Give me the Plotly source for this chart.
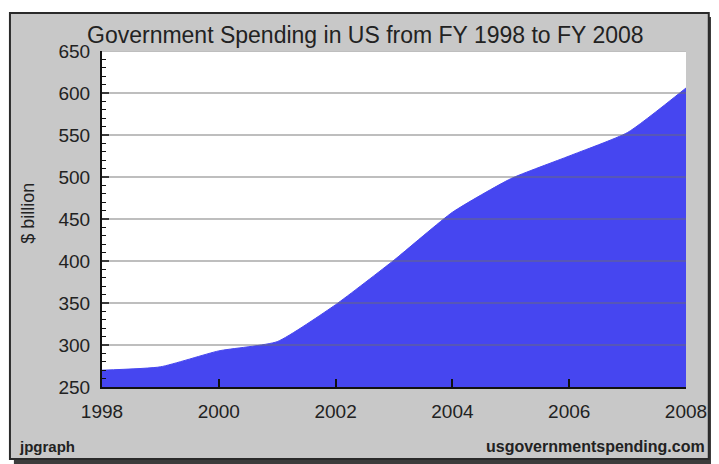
import plotly.graph_objects as go

# ---- data ----
years = [1998, 1999, 2000, 2001, 2002, 2003, 2004, 2005, 2006, 2007, 2008]
spending = [270, 274, 293, 304, 348, 401, 458, 498, 525, 553, 606]
x_ticks = [1998, 2000, 2002, 2004, 2006, 2008]
y_ticks = [250, 300, 350, 400, 450, 500, 550, 600, 650]
title_text = "Government Spending in US from FY 1998 to FY 2008"
y_title = "$ billion"
footer_left = "jpgraph"
footer_right = "usgovernmentspending.com"

# ---- layout geometry (pixels in the 719x464 window) ----
OFF = 8  # default page body margin
W, H = 719 - OFF, 464 - OFF
L, R, T, B = 102 - OFF, 692 - OFF, 51 - OFF, 387 - OFF


def px(xp):
    return (xp - OFF - L) / (R - L)


def py(yp):
    return (B - (yp - OFF)) / (B - T)


FONT = "Liberation Sans, Arial, sans-serif"
TXT = "#222222"
BLUE = "#4646F0"

fig = go.Figure()
fig.add_trace(go.Scatter(
    x=years, y=spending, mode="lines", fill="tozeroy",
    fillcolor=BLUE, line=dict(color=BLUE, width=1, shape="spline", smoothing=0.5),
    hoverinfo="skip", showlegend=False,
))

# frame shadow, frame, plot area
fig.add_shape(type="rect", xref="paper", yref="paper",
              x0=px(13), x1=px(719), y0=py(17), y1=py(464),
              fillcolor="#3c3c3c", line=dict(width=0), layer="below")
fig.add_shape(type="rect", xref="paper", yref="paper",
              x0=px(9), x1=px(715), y0=py(13), y1=py(459),
              fillcolor="#C8C8C8", line=dict(color="#2a2a2a", width=2), layer="below")
fig.add_shape(type="rect", xref="paper", yref="paper",
              x0=0, x1=1, y0=0, y1=1,
              fillcolor="white", line=dict(width=0), layer="below")

# gridlines drawn above the area fill
for v in y_ticks[1:]:
    fig.add_shape(type="line", xref="paper", yref="y", x0=0, x1=1, y0=v, y1=v,
                  line=dict(color="rgba(110,110,110,0.6)", width=1.5), layer="above")

fig.add_annotation(text=title_text, xref="paper", yref="paper",
                   x=px(368), y=py(35), xanchor="center", yanchor="middle",
                   showarrow=False, font=dict(family=FONT, size=23, color=TXT))
fig.add_annotation(text=y_title, xref="paper", yref="paper",
                   x=px(27), y=py(213), xanchor="center", yanchor="middle",
                   textangle=-90, showarrow=False,
                   font=dict(family=FONT, size=18, color=TXT))
fig.add_annotation(text=footer_left, xref="paper", yref="paper",
                   x=px(16), y=py(446), xanchor="left", yanchor="middle",
                   showarrow=False, font=dict(family=FONT, size=15, color=TXT, weight="bold"))
fig.add_annotation(text=footer_right, xref="paper", yref="paper",
                   x=px(713), y=py(446), xanchor="right", yanchor="middle",
                   showarrow=False, font=dict(family=FONT, size=16, color=TXT, weight="bold"))

fig.update_layout(
    width=W, height=H, autosize=False,
    margin=dict(l=L, r=W - R, t=T, b=H - B, pad=0),
    paper_bgcolor="white", plot_bgcolor="white",
    showlegend=False,
    font=dict(family=FONT, color=TXT),
)
fig.update_xaxes(
    range=[years[0], years[-1]], tickvals=x_ticks, ticktext=[str(t) for t in x_ticks],
    ticks="inside", ticklen=8, tickwidth=2, tickcolor="#111",
    showline=True, linecolor="#111", linewidth=2, mirror=False,
    showgrid=False, zeroline=False, fixedrange=True,
    tickfont=dict(family=FONT, size=19, color=TXT), ticklabelstandoff=6,
)
fig.update_yaxes(
    range=[y_ticks[0], y_ticks[-1]], tickvals=y_ticks,
    ticks="inside", ticklen=7, tickwidth=1.5, tickcolor="#111",
    minor=dict(dtick=10, ticks="inside", ticklen=4, tickcolor="#111", tickwidth=1, showgrid=False),
    showline=True, linecolor="#111", linewidth=2,
    showgrid=False, zeroline=False, fixedrange=True,
    tickfont=dict(family=FONT, size=19, color=TXT), ticklabelstandoff=6,
)

fig.write_html("out.html")
